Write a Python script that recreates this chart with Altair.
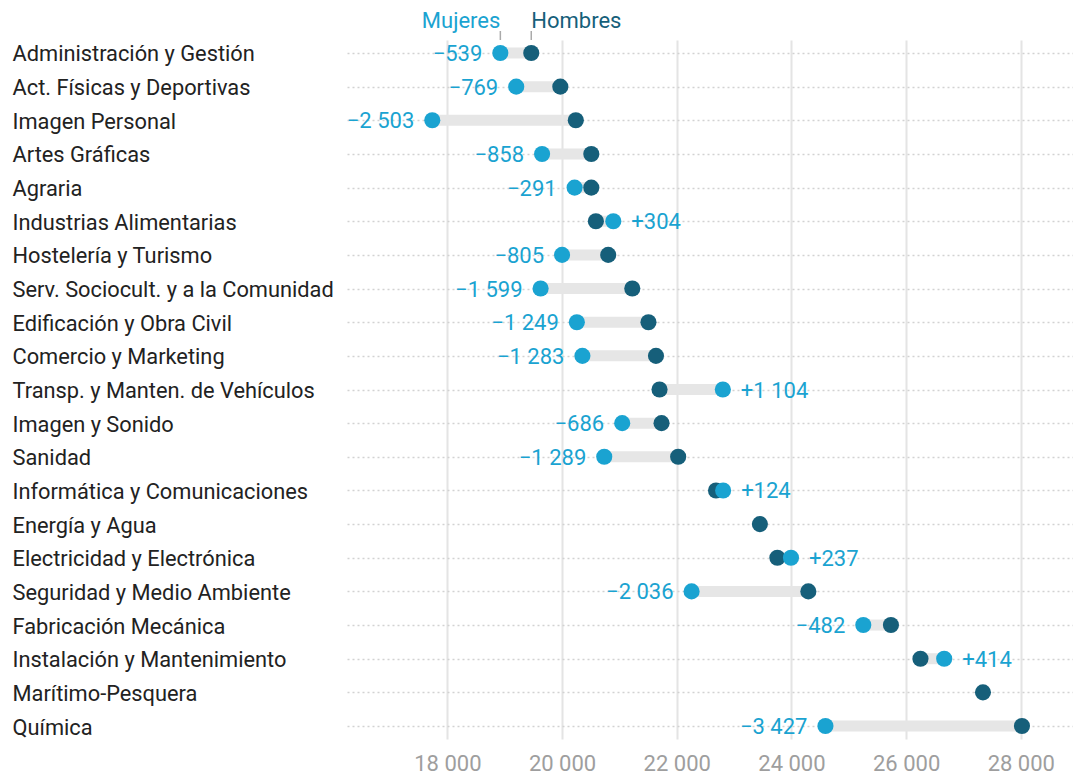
import altair as alt
import pandas as pd

categories = [
    "Administración y Gestión",
    "Act. Físicas y Deportivas",
    "Imagen Personal",
    "Artes Gráficas",
    "Agraria",
    "Industrias Alimentarias",
    "Hostelería y Turismo",
    "Serv. Sociocult. y a la Comunidad",
    "Edificación y Obra Civil",
    "Comercio y Marketing",
    "Transp. y Manten. de Vehículos",
    "Imagen y Sonido",
    "Sanidad",
    "Informática y Comunicaciones",
    "Energía y Agua",
    "Electricidad y Electrónica",
    "Seguridad y Medio Ambiente",
    "Fabricación Mecánica",
    "Instalación y Mantenimiento",
    "Marítimo-Pesquera",
    "Química",
]

hombres = [19463, 19970, 20240, 20510, 20510, 20590, 20805, 21225, 21507, 21638,
           21700, 21735, 22025, 22685, 23450, 23755, 24295, 25735, 26250, 27340, 28020]

# Diferencia Mujeres - Hombres (None = sin dato de mujeres)
diferencias = [-539, -769, -2503, -858, -291, 304, -805, -1599, -1249, -1283,
               1104, -686, -1289, 124, None, 237, -2036, -482, 414, None, -3427]

x_ticks = [18000, 20000, 22000, 24000, 26000, 28000]

LIGHT = "#1aa3d1"
DARK = "#165f7a"
FONT = "Roboto"
FS = 22


def fmt(d):
    s = f"{abs(d):,}".replace(",", " ")
    return ("+" if d > 0 else "\u2212") + s


rows = []
for c, h, d in zip(categories, hombres, diferencias):
    rows.append({
        "cat": c,
        "hombres": h,
        "mujeres": (h + d) if d is not None else None,
        "diff": d,
        "label": fmt(d) if d is not None else None,
    })
df = pd.DataFrame(rows)

y_enc = alt.Y(
    "cat:N",
    sort=categories,
    scale=alt.Scale(type="point", padding=0.386),
    axis=alt.Axis(
        title=None, labelAlign="left", labelPadding=335, ticks=False, tickSize=0,
        domain=False, labelFontSize=21.8, labelColor="#222222", labelFont=FONT,
        labelOffset=1, labelLimit=400, grid=True, gridDash=[2, 3],
        gridColor="#d2d2d2", gridWidth=1.5,
    ),
)

x_scale = alt.Scale(domain=[16250, 28910], nice=False, zero=False)
x_axis = alt.Axis(
    title=None, values=x_ticks, grid=True, gridColor="#e4e4e4", gridWidth=2,
    domain=False, ticks=False, tickSize=0, labelPadding=14, labelFontSize=FS,
    labelColor="#9e9e9e", labelFont=FONT,
    labelExpr="replace(format(datum.value, ','), ',', ' ')",
)


def X(field):
    return alt.X(f"{field}:Q", scale=x_scale, axis=x_axis)


base = alt.Chart(df).encode(y=y_enc)
valid = "isValid(datum.mujeres)"

connector = base.transform_filter(valid).mark_rule(
    color="#e6e6e6", strokeWidth=11, strokeCap="butt"
).encode(x=X("hombres"), x2="mujeres:Q")

dots_h = base.mark_circle(size=260, opacity=1, color=DARK).encode(x=X("hombres"))
dots_m = base.transform_filter(valid).mark_circle(size=260, opacity=1, color=LIGHT).encode(x=X("mujeres"))

lab_neg = base.transform_filter("datum.diff < 0").mark_text(
    align="right", baseline="middle", dx=-18, dy=1, font=FONT, fontSize=FS, color=LIGHT
).encode(x=X("mujeres"), text="label:N")

lab_pos = base.transform_filter("datum.diff > 0").mark_text(
    align="left", baseline="middle", dx=18, dy=1, font=FONT, fontSize=FS, color=LIGHT
).encode(x=X("mujeres"), text="label:N")

first = f"datum.cat == '{categories[0]}'"

head_m = base.transform_filter(first).mark_text(
    align="right", baseline="alphabetic", dy=-25, font=FONT, fontSize=FS, color=LIGHT
).encode(x=X("mujeres"), text=alt.value("Mujeres"))

head_h = base.transform_filter(first).mark_text(
    align="left", baseline="alphabetic", dy=-25, font=FONT, fontSize=FS, color=DARK
).encode(x=X("hombres"), text=alt.value("Hombres"))

tick_m = base.transform_filter(first).mark_rule(
    color="#aaaaaa", strokeWidth=1.5, yOffset=-13, y2Offset=-22
).encode(x=X("mujeres"), y2="cat:N")

tick_h = base.transform_filter(first).mark_rule(
    color="#aaaaaa", strokeWidth=1.5, yOffset=-13, y2Offset=-22
).encode(x=X("hombres"), y2="cat:N")

chart = alt.layer(
    connector, dots_h, dots_m, lab_neg, lab_pos, head_m, head_h, tick_m, tick_h
).properties(
    width=726, height=699,
    autosize=alt.AutoSizeParams(type="none"),
    padding={"left": 339, "top": 32, "right": 0, "bottom": 37},
).configure(font=FONT).configure_view(stroke=None, strokeWidth=0)

chart.save("out.html", embed_options={"renderer": "svg", "actions": False})
